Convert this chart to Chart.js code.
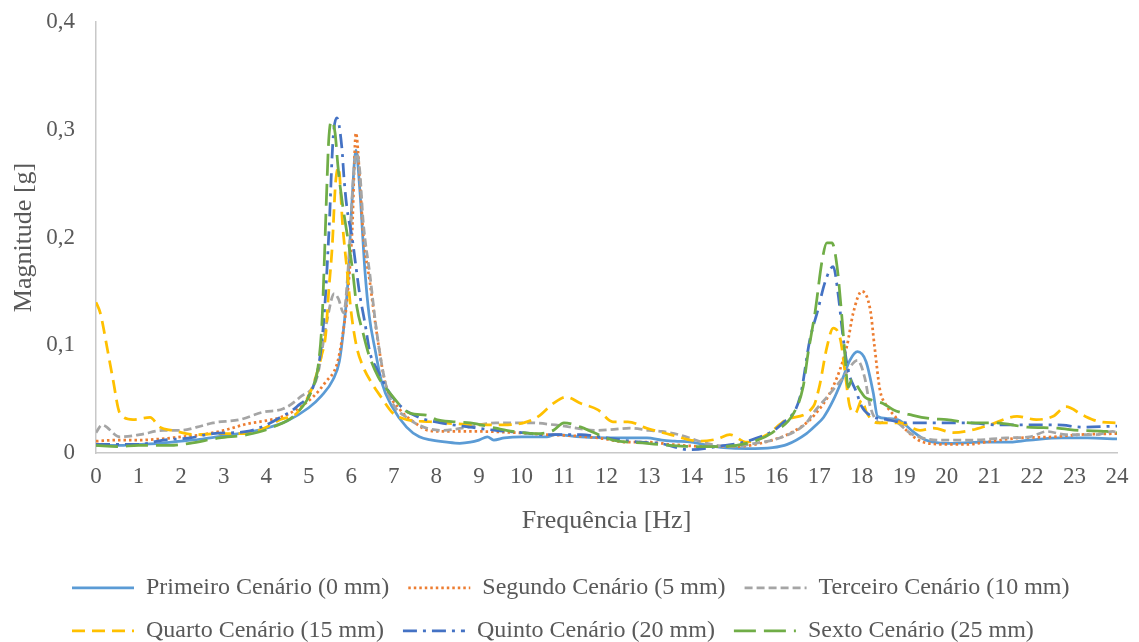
<!DOCTYPE html>
<html lang="pt">
<head>
<meta charset="utf-8">
<title>Magnitude x Frequência</title>
<script src="https://cdn.jsdelivr.net/npm/chart.js@4.4.1/dist/chart.umd.min.js"></script>
<style>
  html, body { margin: 0; padding: 0; background: #fff; }
  #wrap { width: 1139px; height: 642px; }
</style>
</head>
<body>
<div id="wrap"><canvas id="fftChart" width="1139" height="642"></canvas></div>
<script>
// Espectro (FFT) da aceleração nos seis cenários de ensaio

const xTickLabels = ['0', '1', '2', '3', '4', '5', '6', '7', '8', '9', '10', '11', '12',
  '13', '14', '15', '16', '17', '18', '19', '20', '21', '22', '23', '24'];
const yTickLabels = ['0', '0,1', '0,2', '0,3', '0,4'];

const seriesNames = [
  'Primeiro Cenário (0 mm)',
  'Segundo Cenário (5 mm)',
  'Terceiro Cenário (10 mm)',
  'Quarto Cenário (15 mm)',
  'Quinto Cenário (20 mm)',
  'Sexto Cenário (25 mm)'
];

// frequência [Hz] / magnitude [g]
const freqPrimeiro = [0, 0.5, 1, 1.5, 2, 2.5, 3, 3.5, 4, 4.5, 5, 5.3, 5.57, 5.72, 5.82, 5.92, 6.02, 6.11, 6.2, 6.32,
  6.42, 6.56, 6.72, 6.96, 7.3, 7.6, 7.9, 8.25, 8.55, 8.8, 9.0, 9.2, 9.35, 9.6, 10.0, 10.6, 10.8, 11.4, 12.1, 12.95,
  13.3, 13.6, 14.0, 14.4, 14.75, 15.3, 15.9, 16.25, 16.7, 16.9, 17.1, 17.33, 17.56, 17.72, 17.9, 18.1, 18.27, 18.37, 18.6, 18.9,
  19.2, 19.5, 20.0, 20.8, 21.4, 21.95, 22.7, 23.3, 24];
const magPrimeiro = [0.007, 0.007, 0.008, 0.009, 0.011, 0.013, 0.016, 0.019, 0.023, 0.030, 0.042, 0.053, 0.068, 0.085, 0.115, 0.158, 0.235, 0.281, 0.245, 0.170,
  0.128, 0.096, 0.065, 0.043, 0.024, 0.015, 0.012, 0.010, 0.009, 0.010, 0.012, 0.015, 0.012, 0.014, 0.015, 0.015, 0.017, 0.015, 0.014, 0.014,
  0.012, 0.011, 0.010, 0.007, 0.005, 0.004, 0.005, 0.008, 0.018, 0.025, 0.033, 0.049, 0.070, 0.086, 0.094, 0.085, 0.056, 0.034, 0.032, 0.030,
  0.020, 0.012, 0.009, 0.010, 0.010, 0.012, 0.014, 0.014, 0.013];

const freqSegundo = [0, 0.5, 1, 1.5, 2, 2.5, 3, 3.55, 4.0, 4.33, 4.7, 5.1, 5.4, 5.66, 5.78, 5.9, 6.02, 6.11, 6.2, 6.28,
  6.44, 6.6, 6.8, 7.15, 7.5, 7.8, 8.15, 9.0, 9.8, 10.6, 11.2, 11.8, 12.55, 13.0, 13.5, 14.36, 15.1, 15.5, 15.9, 16.4,
  16.86, 17.33, 17.65, 17.8, 18.0, 18.2, 18.3, 18.43, 18.55, 18.8, 19.05, 19.45, 20.0, 20.5, 20.9, 21.7, 22.5, 23.1, 24];
const magSegundo = [0.011, 0.012, 0.012, 0.013, 0.015, 0.017, 0.021, 0.027, 0.030, 0.033, 0.040, 0.052, 0.066, 0.082, 0.105, 0.142, 0.205, 0.297, 0.255, 0.204,
  0.158, 0.111, 0.065, 0.040, 0.028, 0.021, 0.020, 0.020, 0.019, 0.017, 0.016, 0.014, 0.010, 0.010, 0.008, 0.006, 0.006, 0.008, 0.012, 0.020,
  0.034, 0.062, 0.099, 0.130, 0.150, 0.133, 0.099, 0.058, 0.046, 0.033, 0.021, 0.010, 0.008, 0.008, 0.010, 0.014, 0.015, 0.017, 0.018];

const freqTerceiro = [0, 0.14, 0.56, 1.03, 1.58, 2.0, 2.37, 2.75, 3.38, 3.93, 4.4, 4.8, 5.2, 5.43, 5.6, 5.7, 5.82, 5.95, 6.05, 6.13,
  6.2, 6.28, 6.44, 6.58, 6.75, 6.9, 7.38, 7.7, 8.15, 8.6, 9.4, 10.2, 10.8, 11.8, 12.55, 13.0, 13.3, 13.7, 14.36, 14.9,
  15.5, 16.15, 16.7, 16.86, 17.25, 17.56, 17.9, 18.07, 18.2, 18.43, 18.67, 19.2, 19.85, 20.6, 21.4, 21.95, 22.35, 22.8, 23.5, 23.9, 24];
const magTerceiro = [0.019, 0.026, 0.015, 0.017, 0.021, 0.021, 0.024, 0.028, 0.031, 0.038, 0.041, 0.052, 0.071, 0.123, 0.148, 0.143, 0.130, 0.185, 0.256, 0.278,
  0.262, 0.215, 0.165, 0.118, 0.075, 0.052, 0.031, 0.024, 0.021, 0.023, 0.028, 0.028, 0.026, 0.021, 0.023, 0.021, 0.020, 0.017, 0.009, 0.006,
  0.009, 0.015, 0.028, 0.037, 0.055, 0.070, 0.086, 0.070, 0.043, 0.028, 0.031, 0.017, 0.012, 0.012, 0.014, 0.015, 0.020, 0.017, 0.017, 0.020, 0.019];

const freqQuarto = [0, 0.1, 0.26, 0.4, 0.56, 0.87, 1.27, 1.5, 1.8, 2.37, 2.9, 3.55, 4.0, 4.33, 4.72, 5.03, 5.2, 5.3, 5.4, 5.47,
  5.55, 5.63, 5.7, 5.8, 5.9, 6.0, 6.13, 6.28, 6.48, 6.7, 6.98, 7.3, 7.85, 8.5, 9.0, 9.57, 10.05, 10.4, 10.75, 11.05,
  11.4, 11.8, 12.15, 12.5, 12.95, 13.5, 14.2, 14.6, 14.9, 15.3, 15.77, 16.24, 16.86, 17.0, 17.18, 17.33, 17.5, 17.6, 17.72, 17.85,
  18.0, 18.12, 18.36, 18.75, 18.9, 19.37, 19.68, 20.15, 20.55, 21.0, 21.65, 22.1, 22.5, 22.8, 23.2, 23.6, 24];
const magQuarto = [0.140, 0.130, 0.098, 0.068, 0.037, 0.031, 0.033, 0.024, 0.021, 0.017, 0.018, 0.018, 0.024, 0.031, 0.037, 0.056, 0.075, 0.090, 0.110, 0.150,
  0.190, 0.250, 0.265, 0.210, 0.170, 0.130, 0.098, 0.080, 0.065, 0.052, 0.037, 0.031, 0.029, 0.027, 0.026, 0.026, 0.028, 0.034, 0.046, 0.052,
  0.046, 0.040, 0.029, 0.029, 0.023, 0.017, 0.011, 0.013, 0.017, 0.010, 0.017, 0.031, 0.043, 0.061, 0.098, 0.116, 0.105, 0.077, 0.043, 0.037,
  0.049, 0.037, 0.028, 0.028, 0.028, 0.021, 0.023, 0.019, 0.021, 0.026, 0.034, 0.031, 0.034, 0.043, 0.035, 0.029, 0.028];

const freqQuinto = [0, 0.5, 1, 1.58, 2.2, 2.75, 3.55, 4.0, 4.33, 4.72, 5.1, 5.25, 5.36, 5.48, 5.57, 5.66, 5.78, 5.83, 5.9, 6.02,
  6.11, 6.2, 6.32, 6.44, 6.6, 6.9, 7.2, 7.6, 8.1, 8.8, 9.4, 10.0, 10.6, 11.4, 12.0, 12.8, 13.25, 13.96, 14.6, 15.4,
  16.15, 16.55, 16.78, 16.97, 17.14, 17.33, 17.44, 17.56, 17.68, 17.88, 18.0, 18.24, 18.6, 19.06, 19.84, 20.47, 21.2, 21.9, 22.6, 23.2, 24];
const magQuinto = [0.008, 0.008, 0.008, 0.012, 0.014, 0.018, 0.020, 0.026, 0.033, 0.043, 0.061, 0.085, 0.126, 0.209, 0.290, 0.311, 0.283, 0.255, 0.227, 0.200,
  0.173, 0.147, 0.121, 0.093, 0.078, 0.056, 0.042, 0.033, 0.028, 0.024, 0.021, 0.019, 0.017, 0.017, 0.014, 0.010, 0.009, 0.003, 0.006, 0.012,
  0.028, 0.052, 0.105, 0.133, 0.159, 0.173, 0.149, 0.108, 0.077, 0.056, 0.043, 0.034, 0.031, 0.028, 0.028, 0.028, 0.026, 0.026, 0.026, 0.024, 0.025];

const freqSexto = [0, 0.5, 1, 1.74, 2.2, 2.9, 3.55, 4.16, 4.72, 5.1, 5.22, 5.31, 5.36, 5.42, 5.47, 5.53, 5.62, 5.69, 5.78, 5.9,
  6.02, 6.13, 6.28, 6.4, 6.63, 6.9, 7.38, 7.78, 8.0, 8.4, 8.8, 9.4, 9.8, 10.35, 10.75, 11.0, 11.4, 11.7, 12.15, 12.95,
  13.5, 14.0, 14.7, 15.4, 15.9, 16.4, 16.62, 16.74, 16.9, 17.07, 17.18, 17.3, 17.42, 17.54, 17.6, 17.68, 17.77, 17.85, 17.96, 18.07,
  18.24, 18.5, 18.75, 19.2, 19.6, 20.0, 20.6, 21.1, 21.9, 22.6, 23.1, 23.75, 24];
const magSexto = [0.007, 0.006, 0.007, 0.007, 0.009, 0.014, 0.017, 0.024, 0.037, 0.061, 0.080, 0.120, 0.170, 0.240, 0.290, 0.308, 0.297, 0.265, 0.235, 0.204,
  0.173, 0.136, 0.111, 0.093, 0.071, 0.056, 0.037, 0.035, 0.031, 0.029, 0.028, 0.023, 0.020, 0.018, 0.021, 0.028, 0.024, 0.019, 0.012, 0.009,
  0.007, 0.006, 0.006, 0.010, 0.019, 0.037, 0.061, 0.093, 0.130, 0.179, 0.195, 0.195, 0.173, 0.123, 0.093, 0.061, 0.068, 0.065, 0.058, 0.052,
  0.049, 0.046, 0.040, 0.035, 0.032, 0.031, 0.028, 0.028, 0.024, 0.023, 0.021, 0.020, 0.019];

const toPoints = (freq, mag) => freq.map((f, i) => ({ x: f, y: mag[i] }));

const textColor = '#595959';
const axisColor = '#C8C8C8';
Chart.defaults.font.family = "'Liberation Serif', 'Times New Roman', serif";

// last series is painted on top, like the spreadsheet does
const datasets = [
  { data: toPoints(freqPrimeiro, magPrimeiro), borderColor: '#5B9BD5', borderDash: [] },
  { data: toPoints(freqSegundo, magSegundo), borderColor: '#ED7D31', borderDash: [2.5, 3] },
  { data: toPoints(freqTerceiro, magTerceiro), borderColor: '#A5A5A5', borderDash: [8, 4] },
  { data: toPoints(freqQuarto, magQuarto), borderColor: '#FFC000', borderDash: [13, 7] },
  { data: toPoints(freqQuinto, magQuinto), borderColor: '#4472C4', borderDash: [14, 6, 3, 6] },
  { data: toPoints(freqSexto, magSexto), borderColor: '#70AD47', borderDash: [22, 8] }
].map((ds, i, all) => Object.assign({
  label: seriesNames[i],
  borderWidth: 2.75,
  pointRadius: 0,
  fill: false,
  cubicInterpolationMode: 'monotone',
  order: all.length - 1 - i
}, ds));

// legend rows start at the same x, so move the box right a bit
const legendShift = {
  id: 'legendShift',
  afterLayout(chart) {
    chart.legend.left += 53;
    chart.legend.right += 53;
  }
};

new Chart(document.getElementById('fftChart'), {
  type: 'line',
  data: { datasets },
  options: {
    responsive: false,
    animation: false,
    layout: { padding: { top: 22, right: 22, bottom: -10.75, left: 0 } },
    plugins: {
      tooltip: { enabled: false },
      legend: {
        position: 'bottom',
        align: 'start',
        labels: {
          usePointStyle: true,
          pointStyle: 'line',
          pointStyleWidth: 62,
          padding: 19,
          color: textColor,
          font: { size: 24 },
          sort: (a, b) => a.datasetIndex - b.datasetIndex,
          // keep each series' dash pattern in its legend sample
          generateLabels: chart => Chart.defaults.plugins.legend.labels.generateLabels(chart).map(item => {
            const ds = chart.data.datasets[item.datasetIndex];
            return Object.assign(item, {
              lineDash: ds.borderDash,
              lineWidth: ds.borderWidth,
              strokeStyle: ds.borderColor
            });
          })
        }
      }
    },
    scales: {
      x: {
        type: 'linear',
        min: 0,
        max: 24,
        afterFit: scale => {
          scale.height = 103.75;
          scale.paddingLeft = 0;
          scale.paddingRight = 0;
        },
        grid: { display: false, drawTicks: false },
        border: { color: axisColor, width: 1.5 },
        ticks: {
          stepSize: 1,
          autoSkip: false,
          maxRotation: 0,
          padding: 10,
          color: textColor,
          font: { size: 23 },
          callback: (v, i) => xTickLabels[i]
        },
        title: {
          display: true,
          text: 'Frequência [Hz]',
          color: textColor,
          font: { size: 26 },
          padding: { top: 0, bottom: 20 }
        }
      },
      y: {
        min: 0,
        max: 0.4,
        afterFit: scale => {
          scale.width = 96;
          scale.paddingTop = 0;
          scale.paddingBottom = 0;
        },
        grid: { display: false, drawTicks: false },
        border: { color: axisColor, width: 1.5 },
        ticks: {
          stepSize: 0.1,
          padding: 21,
          color: textColor,
          font: { size: 23 },
          callback: (v, i) => yTickLabels[i]
        },
        title: {
          display: true,
          text: 'Magnitude [g]',
          color: textColor,
          font: { size: 26 },
          padding: { top: 9, bottom: 0 }
        }
      }
    }
  },
  plugins: [legendShift]
});
</script>
</body>
</html>
